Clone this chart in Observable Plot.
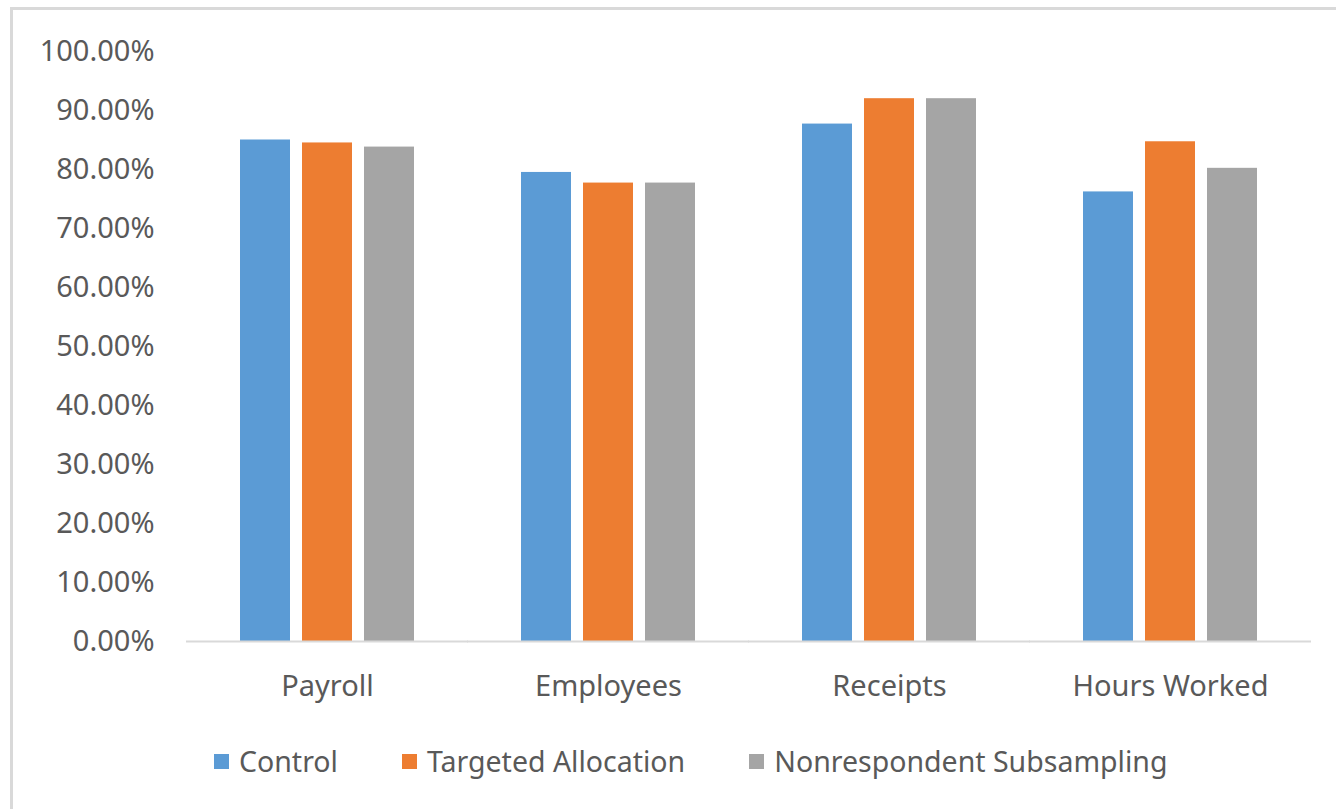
<!DOCTYPE html>
<html>
<head>
<meta charset="utf-8">
<script src="https://cdn.jsdelivr.net/npm/d3@7"></script>
<script src="https://cdn.jsdelivr.net/npm/@observablehq/plot@0.6"></script>
<style>
  html, body { margin: 0; padding: 0; background: #fff; }
  body { width: 1336px; height: 809px; position: relative; overflow: hidden; font-family: "Noto Sans", sans-serif; }
  #frame { position: absolute; left: 10px; top: 7px; width: 1400px; height: 900px; border-left: 3px solid #d9d9d9; border-top: 3px solid #d9d9d9; }
  #chart { position: absolute; left: 0; top: 0; }
  #legend { position: absolute; left: 214px; top: 742px; display: flex; align-items: center; font-size: 28.5px; color: #595959; white-space: nowrap; }
  .item { display: flex; align-items: center; margin-right: 64px; }
  .sw { width: 15px; height: 15px; margin-right: 10px; }
</style>
</head>
<body>
<div id="frame"></div>
<div id="chart"></div>
<div id="legend"></div>
<script>
const categories = ["Payroll", "Employees", "Receipts", "Hours Worked"];
const seriesNames = ["Control", "Targeted Allocation", "Nonrespondent Subsampling"];
const controlValues = [85.0, 79.5, 87.7, 76.2];
const targetedValues = [84.5, 77.7, 92.0, 84.7];
const nonrespValues = [83.8, 77.7, 92.0, 80.2];
const colors = ["#5b9bd5", "#ed7d31", "#a5a5a5"];
const yTicks = [0, 10, 20, 30, 40, 50, 60, 70, 80, 90, 100];

const seriesValues = [controlValues, targetedValues, nonrespValues];
const data = [];
categories.forEach((c, i) => {
  seriesNames.forEach((s, j) => data.push({category: c, series: s, value: seriesValues[j][i]}));
});

const plot = Plot.plot({
  width: 1336,
  height: 720,
  marginLeft: 185,
  marginRight: 24,
  marginTop: 51,
  marginBottom: 79,
  style: {fontFamily: "'Noto Sans', sans-serif", fontSize: "29px", color: "#595959", background: "transparent", overflow: "visible"},
  fx: {domain: categories, paddingInner: 0.38, paddingOuter: 0.19, label: null},
  x: {domain: seriesNames, paddingInner: 0.2, paddingOuter: 0, axis: null},
  y: {domain: [0, 100], label: null},
  color: {domain: seriesNames, range: colors},
  marks: [
    Plot.axisY({ticks: yTicks, tickSize: 0, tickPadding: 86, tickFormat: d => d.toFixed(2) + "%", fill: "#595959", fontSize: 29}),
    Plot.axisFx({anchor: "bottom", tickSize: 0, tickPadding: 34, fill: "#595959", fontSize: 29, label: null}),
    Plot.barY(data, {fx: "category", x: "series", y: "value", fill: "series"}),
    Plot.ruleY([0], {stroke: "#d9d9d9", strokeWidth: 2, insetLeft: -54, insetRight: -54})
  ]
});
document.getElementById("chart").appendChild(plot);

const legend = document.getElementById("legend");
seriesNames.forEach((s, j) => {
  const item = document.createElement("div");
  item.className = "item";
  const sw = document.createElement("div");
  sw.className = "sw";
  sw.style.background = colors[j];
  const t = document.createElement("span");
  t.textContent = s;
  item.appendChild(sw);
  item.appendChild(t);
  legend.appendChild(item);
});
</script>
</body>
</html>
